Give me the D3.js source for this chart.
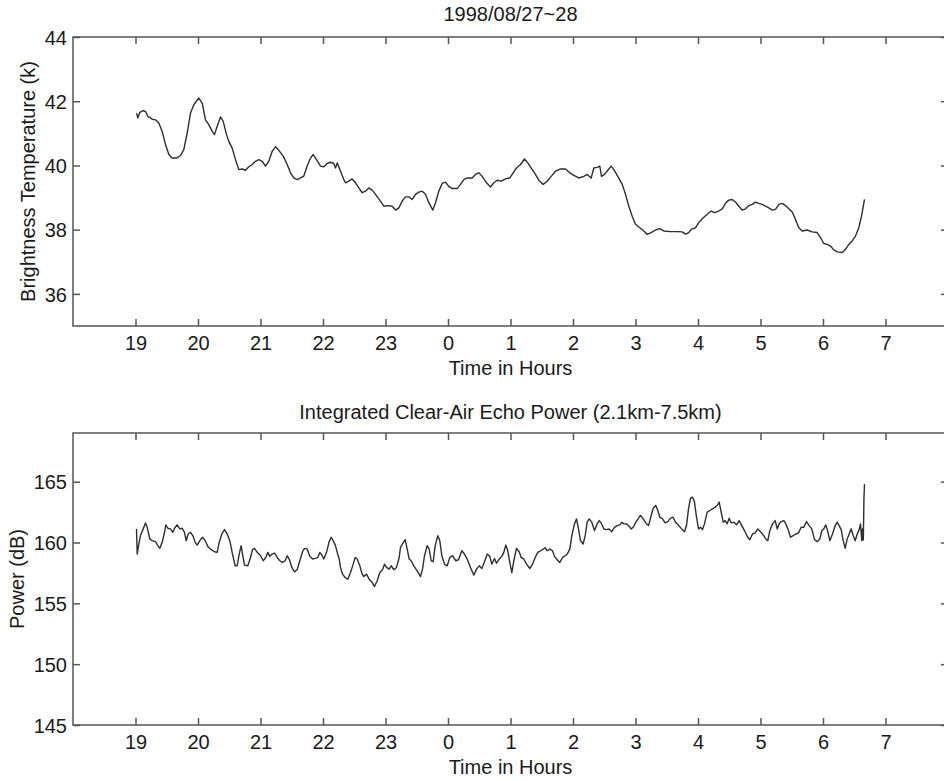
<!DOCTYPE html>
<html>
<head>
<meta charset="utf-8">
<script src="https://cdn.jsdelivr.net/npm/d3@7"></script>
<style>
  html, body { margin: 0; padding: 0; background: #fff; }
  svg { display: block; }
  text { font-family: "Liberation Sans", Arial, sans-serif; fill: #1a1a1a; }
</style>
</head>
<body>
<svg id="chart" width="944" height="781"></svg>
<script>
// ---------------- DATA ----------------
const titleTop = "1998/08/27~28";
const titleBottom = "Integrated Clear-Air Echo Power (2.1km-7.5km)";
const xLabel = "Time in Hours";
const yLabelTop = "Brightness Temperature (k)";
const yLabelBottom = "Power (dB)";

// continuous hours (24 = midnight); labels wrap modulo 24
const hourTicks = [19, 20, 21, 22, 23, 24, 25, 26, 27, 28, 29, 30, 31];
const hourTickLabels = ["19", "20", "21", "22", "23", "0", "1", "2", "3", "4", "5", "6", "7"];
const tbTicks = [36, 38, 40, 42, 44];
const powTicks = [145, 150, 155, 160, 165];

const tbHours = [19.016,19.037,19.069,19.123,19.16,19.197,19.267,19.32,19.373,19.427,19.48,19.533,19.587,19.656,19.72,19.773,19.827,19.88,19.933,20.013,20.067,20.12,20.173,20.227,20.264,20.307,20.36,20.403,20.456,20.493,20.547,20.6,20.653,20.707,20.76,20.813,20.867,20.92,20.973,21.027,21.08,21.133,21.187,21.24,21.293,21.363,21.427,21.48,21.533,21.587,21.64,21.693,21.747,21.8,21.843,21.896,21.96,22.013,22.067,22.12,22.173,22.2,22.227,22.28,22.333,22.36,22.413,22.467,22.52,22.573,22.627,22.68,22.733,22.787,22.84,22.893,22.973,23.027,23.107,23.16,23.213,23.267,23.32,23.373,23.427,23.48,23.533,23.587,23.64,23.693,23.757,23.8,23.853,23.907,23.96,24.013,24.067,24.147,24.2,24.253,24.307,24.387,24.44,24.493,24.547,24.616,24.68,24.733,24.787,24.851,24.92,24.989,25.043,25.096,25.16,25.224,25.277,25.331,25.384,25.453,25.523,25.587,25.651,25.72,25.8,25.88,25.949,26.013,26.093,26.173,26.227,26.291,26.333,26.387,26.429,26.456,26.504,26.557,26.611,26.653,26.717,26.787,26.84,26.893,26.947,27.0,27.069,27.133,27.187,27.251,27.32,27.389,27.453,27.56,27.667,27.747,27.8,27.853,27.891,27.96,28.013,28.067,28.147,28.211,28.264,28.333,28.387,28.44,28.493,28.547,28.6,28.653,28.707,28.76,28.813,28.867,28.92,28.973,29.027,29.08,29.133,29.187,29.24,29.293,29.347,29.4,29.453,29.507,29.56,29.613,29.667,29.747,29.827,29.907,29.96,30.013,30.067,30.12,30.173,30.227,30.307,30.36,30.413,30.467,30.52,30.573,30.616,30.664];
const tbValues = [41.63,41.48,41.65,41.71,41.68,41.53,41.44,41.42,41.32,41.06,40.65,40.34,40.23,40.23,40.31,40.49,41.01,41.63,41.89,42.10,41.94,41.42,41.27,41.06,40.96,41.22,41.51,41.37,40.96,40.75,40.54,40.18,39.87,39.89,39.85,39.96,40.03,40.13,40.18,40.13,39.98,40.13,40.44,40.58,40.47,40.29,40.03,39.77,39.61,39.56,39.61,39.67,39.98,40.23,40.34,40.18,39.98,39.96,40.06,40.10,40.06,39.92,40.08,39.82,39.56,39.46,39.51,39.58,39.46,39.30,39.15,39.20,39.30,39.23,39.10,38.96,38.73,38.75,38.73,38.61,38.68,38.89,39.02,39.02,38.94,39.10,39.17,39.20,39.10,38.84,38.61,38.84,39.20,39.44,39.48,39.35,39.28,39.28,39.41,39.56,39.61,39.61,39.72,39.77,39.66,39.46,39.33,39.46,39.54,39.51,39.58,39.61,39.77,39.92,40.03,40.20,40.08,39.92,39.77,39.54,39.41,39.51,39.66,39.82,39.89,39.89,39.77,39.69,39.61,39.66,39.72,39.61,39.92,39.94,39.98,39.66,39.72,39.85,39.98,39.87,39.66,39.41,39.10,38.73,38.42,38.17,38.06,37.96,37.85,37.91,37.99,38.03,37.96,37.94,37.94,37.93,37.86,37.91,38.01,38.06,38.22,38.34,38.48,38.58,38.53,38.58,38.65,38.82,38.92,38.94,38.86,38.73,38.61,38.65,38.75,38.79,38.86,38.82,38.79,38.73,38.68,38.61,38.63,38.79,38.82,38.75,38.65,38.55,38.32,38.06,37.96,37.99,37.93,37.91,37.75,37.57,37.54,37.49,37.37,37.31,37.29,37.39,37.54,37.65,37.80,38.06,38.42,38.94];

const powHours = [19.016,19.027,19.053,19.08,19.123,19.16,19.187,19.229,19.267,19.32,19.357,19.389,19.427,19.464,19.485,19.517,19.56,19.597,19.624,19.667,19.709,19.747,19.784,19.811,19.843,19.88,19.917,19.955,19.987,20.029,20.072,20.115,20.157,20.211,20.264,20.307,20.339,20.381,20.424,20.467,20.509,20.552,20.595,20.627,20.659,20.691,20.712,20.744,20.797,20.84,20.872,20.904,20.947,21.0,21.043,21.085,21.117,21.149,21.187,21.224,21.267,21.309,21.352,21.395,21.427,21.459,21.501,21.544,21.587,21.629,21.672,21.704,21.747,21.789,21.832,21.875,21.917,21.949,21.981,22.013,22.056,22.099,22.131,22.163,22.2,22.227,22.259,22.28,22.312,22.355,22.397,22.44,22.483,22.515,22.547,22.589,22.621,22.653,22.696,22.739,22.781,22.824,22.867,22.909,22.952,22.984,23.016,23.059,23.091,23.133,23.176,23.219,23.24,23.272,23.315,23.347,23.379,23.411,23.453,23.507,23.56,23.592,23.624,23.667,23.699,23.731,23.763,23.795,23.837,23.869,23.901,23.944,23.987,24.029,24.072,24.125,24.168,24.221,24.264,24.307,24.36,24.413,24.456,24.499,24.541,24.584,24.627,24.669,24.701,24.744,24.776,24.819,24.861,24.893,24.925,24.957,24.989,25.021,25.053,25.096,25.139,25.171,25.213,25.256,25.309,25.352,25.395,25.437,25.48,25.523,25.555,25.587,25.629,25.672,25.704,25.747,25.789,25.832,25.875,25.907,25.949,25.981,26.024,26.056,26.088,26.12,26.163,26.195,26.227,26.259,26.301,26.344,26.387,26.419,26.451,26.493,26.536,26.579,26.621,26.664,26.707,26.749,26.781,26.813,26.856,26.899,26.931,26.963,27.005,27.048,27.08,27.123,27.165,27.208,27.251,27.283,27.325,27.357,27.389,27.432,27.475,27.517,27.56,27.603,27.64,27.693,27.747,27.784,27.816,27.848,27.88,27.912,27.944,27.976,28.008,28.04,28.072,28.104,28.147,28.189,28.232,28.275,28.307,28.339,28.371,28.403,28.435,28.467,28.499,28.531,28.573,28.616,28.659,28.701,28.744,28.787,28.829,28.872,28.915,28.957,29.0,29.043,29.085,29.117,29.149,29.192,29.235,29.267,29.299,29.331,29.373,29.405,29.448,29.48,29.523,29.565,29.608,29.651,29.693,29.736,29.779,29.821,29.864,29.907,29.949,29.981,30.013,30.045,30.077,30.109,30.152,30.195,30.227,30.259,30.291,30.323,30.355,30.387,30.419,30.451,30.483,30.515,30.547,30.579,30.6,30.621,30.632,30.645,30.655,30.664];
const powValues = [161.12,159.05,159.88,160.57,161.12,161.61,161.25,160.29,160.15,160.07,159.74,159.52,160.01,160.84,161.45,161.17,161.12,160.84,161.17,161.45,161.12,161.17,160.84,160.15,160.70,160.84,160.57,160.01,159.79,160.15,160.43,160.15,159.68,159.41,159.24,159.19,160.01,160.70,161.06,160.70,160.15,159.05,158.09,158.09,159.05,159.74,159.05,158.14,158.09,158.77,159.41,159.52,159.19,158.91,158.50,158.77,159.19,158.86,159.05,159.13,158.77,158.50,158.36,158.50,158.91,158.64,157.95,157.59,157.76,158.50,159.24,159.52,159.46,158.86,158.64,158.69,158.77,159.19,158.97,158.64,159.19,160.07,160.43,160.15,159.74,159.19,158.64,157.95,157.40,157.12,156.98,157.54,158.22,158.77,158.64,158.09,157.48,157.20,157.40,156.98,156.76,156.38,156.85,157.54,157.76,158.22,157.95,157.81,158.09,157.76,157.95,158.77,159.60,159.88,160.23,159.46,158.64,158.50,158.08,157.67,157.20,157.81,158.91,159.74,159.46,158.50,158.42,159.74,160.56,160.15,158.91,158.22,158.08,158.77,158.91,158.50,158.58,159.32,159.05,158.64,157.95,157.31,157.81,158.08,157.86,158.42,159.05,158.86,158.22,158.69,158.30,158.64,158.86,159.19,159.79,159.32,158.36,157.53,158.50,159.52,159.24,158.77,158.64,158.22,157.86,158.22,158.77,159.19,159.32,159.46,159.57,159.32,159.46,159.32,158.86,158.58,158.36,158.77,158.91,159.05,159.46,160.56,161.53,161.94,161.11,160.15,159.88,160.56,161.67,161.94,161.67,160.98,161.53,161.80,161.61,161.11,161.06,161.11,160.89,161.25,161.39,161.45,161.67,161.53,161.53,161.34,161.11,161.25,161.67,162.00,162.22,161.94,161.61,161.39,162.22,162.82,163.04,162.63,162.08,161.94,161.61,161.72,162.00,162.08,161.67,161.39,161.06,160.89,161.39,162.77,163.65,163.73,163.32,162.08,161.12,161.25,161.06,161.53,162.49,162.63,162.77,162.91,163.04,163.32,162.49,161.67,161.80,161.53,161.99,161.61,161.67,161.45,161.80,161.39,160.98,160.51,160.23,160.70,160.79,161.12,160.89,160.62,160.29,160.15,160.98,161.53,161.80,161.12,161.53,161.72,161.80,161.53,160.98,160.43,160.57,160.70,160.79,161.25,161.25,161.72,161.39,161.12,160.23,160.07,160.29,160.98,161.12,161.45,160.89,160.15,160.70,161.39,161.67,161.39,161.06,160.15,159.52,160.29,160.70,161.12,160.57,160.15,160.70,161.06,161.53,160.15,161.12,160.20,163.60,164.80];

// ---------------- DRAW ----------------
const svg = d3.select("#chart");
const left = 73, right = 948;
const x = d3.scaleLinear().domain([18, 32]).range([left, right]);

const panels = [
  { top: 37, bottom: 326, domain: [35, 44], ticks: tbTicks, hours: tbHours, values: tbValues,
    title: titleTop, titleY: 21, yLabel: yLabelTop, yLabelX: 35 },
  { top: 433, bottom: 725, domain: [145, 169], ticks: powTicks, hours: powHours, values: powValues,
    title: titleBottom, titleY: 419, yLabel: yLabelBottom, yLabelX: 24 }
];

const fs = 20;
const axisColor = "#555";

panels.forEach(p => {
  const y = d3.scaleLinear().domain(p.domain).range([p.bottom, p.top]);
  const g = svg.append("g");

  // frame
  g.append("rect")
    .attr("x", left).attr("y", p.top)
    .attr("width", right - left).attr("height", p.bottom - p.top)
    .attr("fill", "none").attr("stroke", axisColor).attr("stroke-width", 1.5);

  const tickLabel = (d) => hourTickLabels[hourTicks.indexOf(d)];

  // bottom axis with labels
  const gb = g.append("g").attr("transform", `translate(0,${p.bottom})`)
    .call(d3.axisBottom(x).tickValues(hourTicks).tickFormat(tickLabel)
      .tickSizeInner(-7).tickSizeOuter(0).tickPadding(10));
  // top axis ticks only
  const gt = g.append("g").attr("transform", `translate(0,${p.top})`)
    .call(d3.axisTop(x).tickValues(hourTicks).tickFormat("")
      .tickSizeInner(-7).tickSizeOuter(0));
  // left axis with labels
  const gl = g.append("g").attr("transform", `translate(${left},0)`)
    .call(d3.axisLeft(y).tickValues(p.ticks).tickFormat(d3.format("d"))
      .tickSizeInner(-7).tickSizeOuter(0).tickPadding(6));
  // right axis ticks only
  const gr = g.append("g").attr("transform", `translate(${right},0)`)
    .call(d3.axisRight(y).tickValues(p.ticks).tickFormat("")
      .tickSizeInner(-7).tickSizeOuter(0));

  [gb, gt, gl, gr].forEach(a => {
    a.select(".domain").remove();
    a.selectAll(".tick line").attr("stroke", axisColor).attr("stroke-width", 1.5);
    a.selectAll(".tick text").style("font-family", '"Liberation Sans", Arial, sans-serif')
      .style("font-size", fs + "px").attr("fill", "#1a1a1a");
  });
  gl.selectAll(".tick text").attr("dy", "0.36em");

  // series line
  const pts = p.hours.map((h, i) => [h, p.values[i]]);
  g.append("path")
    .datum(pts)
    .attr("fill", "none")
    .attr("stroke", "#2e2e2e")
    .attr("stroke-width", 1.4)
    .attr("stroke-linejoin", "round")
    .attr("d", d3.line().x(d => x(d[0])).y(d => y(d[1])));

  // title
  g.append("text")
    .attr("x", (left + right) / 2).attr("y", p.titleY)
    .attr("text-anchor", "middle").style("font-size", fs + "px")
    .text(p.title);

  // x label
  g.append("text")
    .attr("x", (left + right) / 2).attr("y", p.bottom + 49)
    .attr("text-anchor", "middle").style("font-size", fs + "px")
    .text(xLabel);

  // y label
  g.append("text")
    .attr("transform", `translate(${p.yLabelX},${(p.top + p.bottom) / 2}) rotate(-90)`)
    .attr("text-anchor", "middle").style("font-size", fs + "px")
    .text(p.yLabel);
});
</script>
</body>
</html>
